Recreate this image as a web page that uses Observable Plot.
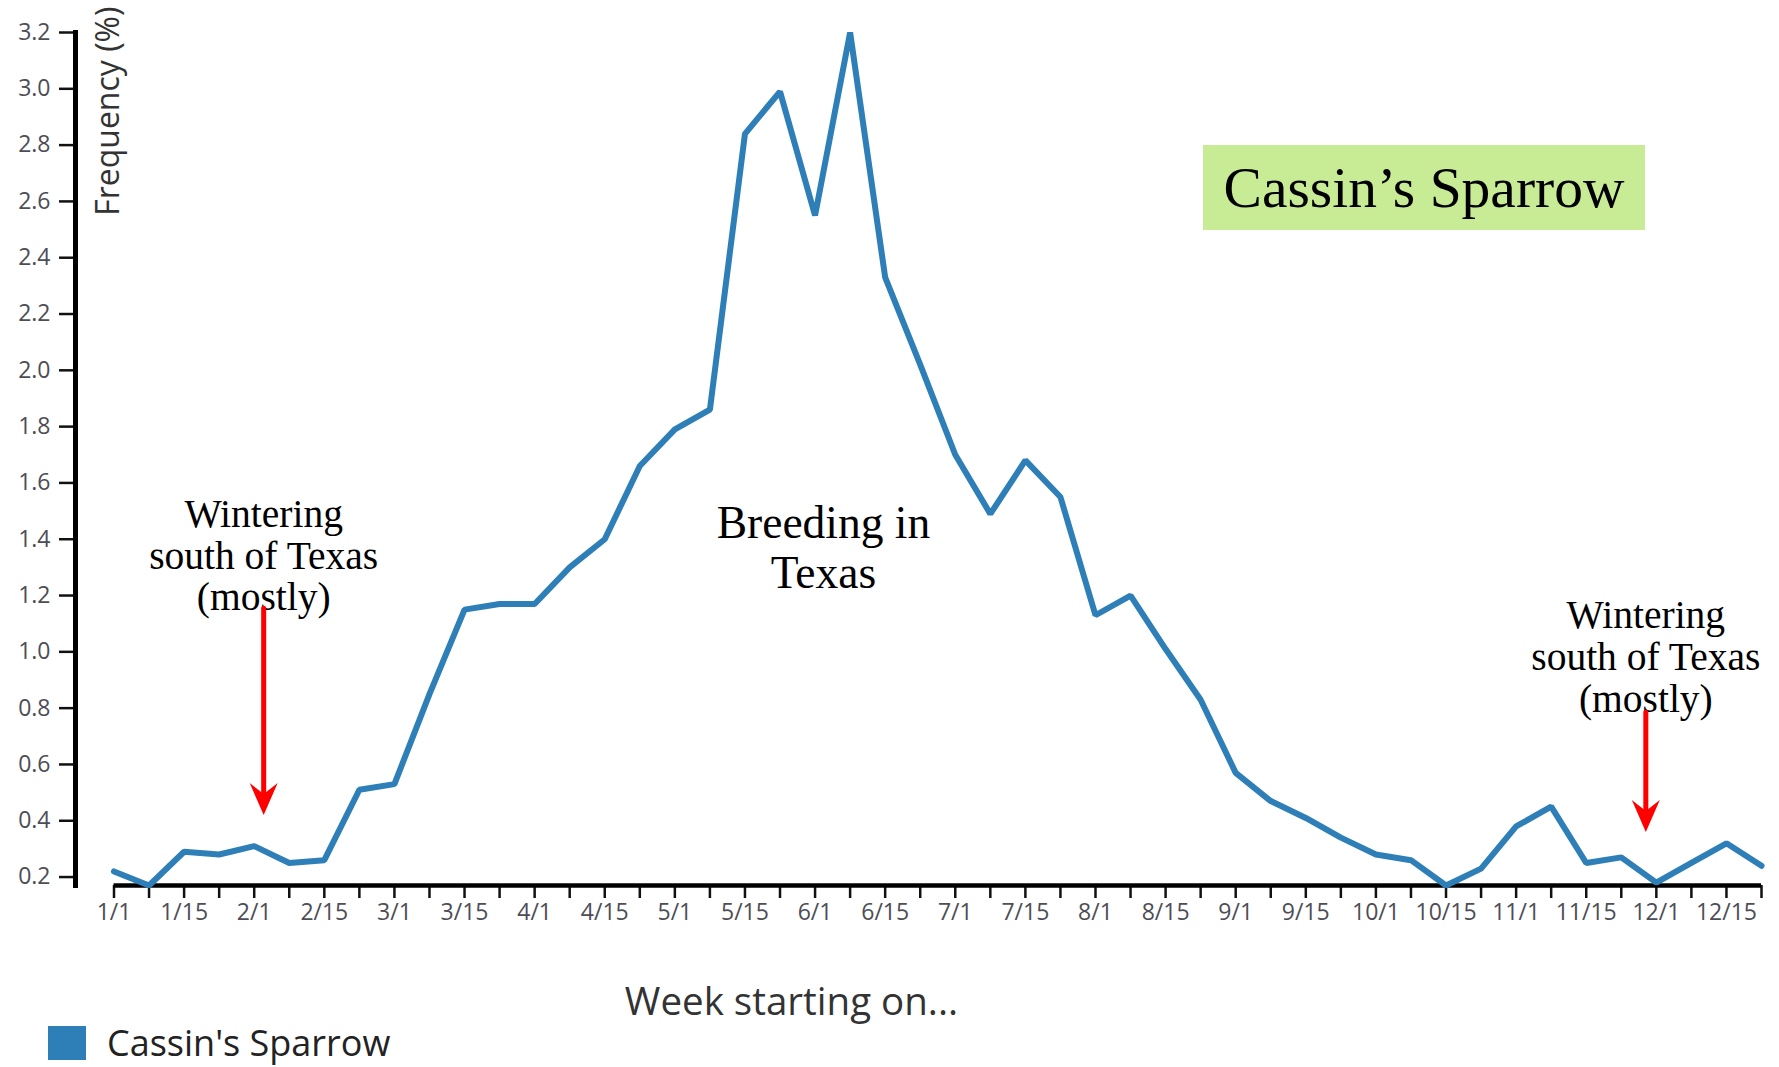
<!DOCTYPE html>
<html>
<head>
<meta charset="utf-8">
<script src="https://cdn.jsdelivr.net/npm/d3@7"></script>
<script src="https://cdn.jsdelivr.net/npm/@observablehq/plot@0.6"></script>
<style>
  body { margin: 0; background: #fff; }
  #wrap { position: relative; width: 1779px; height: 1067px; background: #fff; overflow: hidden; }
  #title { position: absolute; left: 1203px; top: 145px; width: 442px; height: 85px; background: #c8eb96;
           font-family: "Liberation Serif", serif; font-size: 57.5px; color: #000;
           display: flex; align-items: center; justify-content: center; }
  #legend { position: absolute; left: 48px; top: 1023px; height: 40px; display: flex; align-items: center;
            font-family: "Open Sans", sans-serif; font-size: 36px; line-height: 40px; color: #222; }
  #legend .sw { display: inline-block; width: 38px; height: 34px; background: #2e7fb8; margin-right: 21px; }
</style>
</head>
<body>
<div id="wrap">
  <div id="chart"></div>
  <div id="title">Cassin’s Sparrow</div>
  <div id="legend"><span class="sw"></span><span>Cassin's Sparrow</span></div>
</div>
<script>
// Week starts (eBird: 4 per month)
const weeks = [
  "1/1","1/8","1/15","1/22","2/1","2/8","2/15","2/22","3/1","3/8","3/15","3/22",
  "4/1","4/8","4/15","4/22","5/1","5/8","5/15","5/22","6/1","6/8","6/15","6/22",
  "7/1","7/8","7/15","7/22","8/1","8/8","8/15","8/22","9/1","9/8","9/15","9/22",
  "10/1","10/8","10/15","10/22","11/1","11/8","11/15","11/22","12/1","12/8","12/15","12/22"
];
// Frequency (%) of Cassin's Sparrow per week
const freq = [
  0.22, 0.17, 0.29, 0.28, 0.31, 0.25, 0.26, 0.51, 0.53, 0.85, 1.15, 1.17,
  1.17, 1.30, 1.40, 1.66, 1.79, 1.86, 2.84, 2.99, 2.55, 3.20, 2.33, 2.02,
  1.70, 1.49, 1.68, 1.55, 1.13, 1.20, 1.01, 0.83, 0.57, 0.47, 0.41, 0.34,
  0.28, 0.26, 0.17, 0.23, 0.38, 0.45, 0.25, 0.27, 0.18, 0.25, 0.32, 0.24
];
const tickLabels = ["1/1","1/15","2/1","2/15","3/1","3/15","4/1","4/15","5/1","5/15","6/1","6/15",
                    "7/1","7/15","8/1","8/15","9/1","9/15","10/1","10/15","11/1","11/15","12/1","12/15"];
const yTicks = [0.2,0.4,0.6,0.8,1.0,1.2,1.4,1.6,1.8,2.0,2.2,2.4,2.6,2.8,3.0,3.2];

// Annotations (position in week index / frequency units)
const winterText = ["Wintering\nsouth of Texas\n(mostly)", "Wintering\nsouth of Texas\n(mostly)"];
const winterX = [4.27, 43.7];
const winterTop = [1.55, 1.19];
const breedText = ["Breeding in\nTexas"];
const breedX = [20.24];
const breedTop = [1.53];
const arrowX = [4.27, 43.7];
const arrowTop = [1.155, 0.785];
const arrowTip = [0.42, 0.36];

const series = freq.map((v, i) => ({week: i, freq: v}));
const winterNotes = winterText.map((t, i) => ({text: t, x: winterX[i], y: winterTop[i]}));
const breedNotes = breedText.map((t, i) => ({text: t, x: breedX[i], y: breedTop[i]}));
const arrows = arrowX.map((x, i) => ({x, top: arrowTop[i], tip: arrowTip[i]}));

const arrowHead = {
  draw(context) {
    context.moveTo(0, 0);
    context.lineTo(-14, -32);
    context.lineTo(0, -21);
    context.lineTo(14, -32);
    context.closePath();
  }
};

const chart = Plot.plot({
  width: 1779,
  height: 1020,
  marginTop: 32,
  marginBottom: 135,
  marginLeft: 75,
  marginRight: 18,
  x: {type: "linear", domain: [0, weeks.length - 1], insetLeft: 38.5, axis: null},
  y: {domain: [0.17, 3.2], axis: null},
  style: {fontFamily: "'Open Sans', sans-serif", background: "#fff", overflow: "visible"},
  marks: [
    Plot.axisY(yTicks, {
      tickSize: 16, tickPadding: 9, tickFormat: d3.format(".1f"),
      fontSize: 23, fill: "#4d4d55", stroke: "#111", strokeWidth: 2.5, label: null
    }),
    Plot.axisX(weeks.map((w, i) => i), {
      tickSize: 13, tickPadding: 5,
      tickFormat: i => tickLabels.includes(weeks[i]) ? weeks[i] : "",
      fontSize: 23, fill: "#4d4d55", stroke: "#111", strokeWidth: 2.5, label: null
    }),
    Plot.frame({anchor: "left", stroke: "#000", strokeWidth: 5}),
    Plot.ruleY([0.17], {x1: 0, x2: weeks.length - 1, stroke: "#000", strokeWidth: 4.5}),
    Plot.line(series, {x: "week", y: "freq", stroke: "#2e7fb8", strokeWidth: 6, strokeLinejoin: "miter"}),
    Plot.text(["Frequency (%)"], {
      frameAnchor: "top-left", rotate: -90, dx: 33, dy: -26, textAnchor: "end", lineAnchor: "middle",
      fontSize: 32, fill: "#333"
    }),
    Plot.text(["Week starting on..."], {
      frameAnchor: "bottom-left", dx: 716, dy: 129, textAnchor: "middle", fontSize: 38.5, fill: "#333"
    }),
    Plot.text(winterNotes, {
      x: "x", y: "y", text: "text", lineAnchor: "top", lineHeight: 1.06,
      fontFamily: "'Liberation Serif', serif", fontSize: 39.5, fill: "#000"
    }),
    Plot.text(breedNotes, {
      x: "x", y: "y", text: "text", lineAnchor: "top", lineHeight: 1.1,
      fontFamily: "'Liberation Serif', serif", fontSize: 45.5, fill: "#000"
    }),
    Plot.arrow(arrows, {
      x1: "x", y1: "top", x2: "x", y2: "tip", headLength: 0, insetEnd: 18,
      stroke: "#ff0000", strokeWidth: 5, strokeLinecap: "round"
    }),
    Plot.dot(arrows, {x: "x", y: "tip", symbol: arrowHead, r: 10, fill: "#ff0000", stroke: null})
  ]
});
document.getElementById("chart").appendChild(chart);
</script>
</body>
</html>
